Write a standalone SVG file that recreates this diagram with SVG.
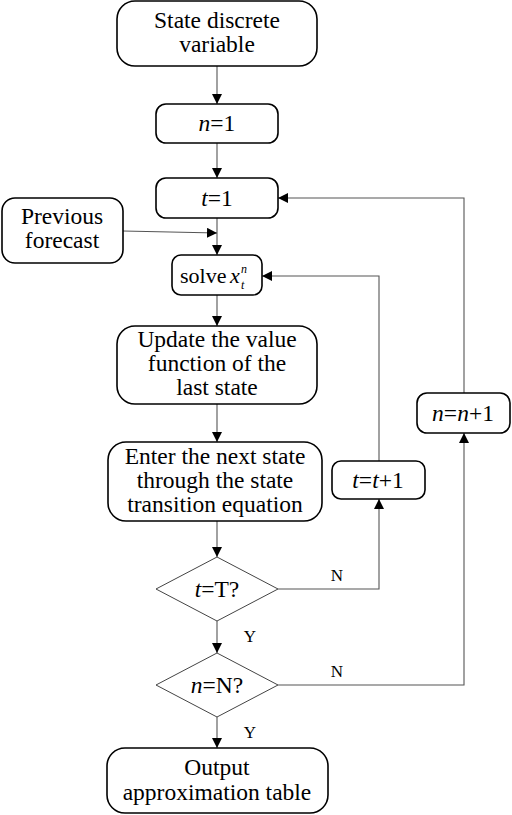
<svg xmlns="http://www.w3.org/2000/svg" width="512" height="815" viewBox="0 0 512 815">
<style>
.box{fill:#fff;stroke:#000;stroke-width:1.6}
.dia{fill:#fff;stroke:#444;stroke-width:1}
text{font-family:'Liberation Serif','DejaVu Serif',serif}
.t{font-size:23.5px;fill:#000;text-anchor:middle}
.s{font-size:17px;fill:#000;text-anchor:middle}
.i{font-style:italic}
.c{fill:none;stroke:#555;stroke-width:1.1}
</style>
<defs>
<marker id="ah" viewBox="0 0 10 10" refX="10" refY="5" markerWidth="10" markerHeight="10" markerUnits="userSpaceOnUse" orient="auto">
<path d="M0,0 L10,5 L0,10 z" fill="#000"/>
</marker>
</defs>
<g id="connectors">
<line class="c" x1="217" y1="66" x2="217" y2="104" marker-end="url(#ah)"/>
<line class="c" x1="217" y1="143" x2="217" y2="178" marker-end="url(#ah)"/>
<line class="c" x1="217" y1="218" x2="217" y2="255" marker-end="url(#ah)"/>
<line class="c" x1="123" y1="231" x2="217" y2="233" marker-end="url(#ah)"/>
<line class="c" x1="217" y1="295" x2="217" y2="326" marker-end="url(#ah)"/>
<line class="c" x1="217" y1="404" x2="217" y2="442" marker-end="url(#ah)"/>
<line class="c" x1="217" y1="521" x2="217" y2="557" marker-end="url(#ah)"/>
<line class="c" x1="217" y1="621" x2="217" y2="653" marker-end="url(#ah)"/>
<line class="c" x1="217" y1="717" x2="217" y2="748" marker-end="url(#ah)"/>
<polyline class="c" points="278,589 379,589 379,499" marker-end="url(#ah)"/>
<polyline class="c" points="379,461 379,276 262,276" marker-end="url(#ah)"/>
<polyline class="c" points="278,685 464,685 464,433" marker-end="url(#ah)"/>
<polyline class="c" points="464,393 464,198 278,198" marker-end="url(#ah)"/>
<text class="s" x="337" y="581">N</text>
<text class="s" x="337" y="677">N</text>
<text class="s" x="250" y="642">Y</text>
<text class="s" x="250" y="738">Y</text>
</g>
<g id="node-state">
<rect class="box" x="117" y="1" width="200" height="65" rx="18"/>
<text class="t" x="217" y="28">State discrete</text>
<text class="t" x="217" y="52">variable</text>
</g>
<g id="node-n1">
<rect class="box" x="156" y="104" width="122" height="39" rx="10"/>
<text class="t" x="217" y="131"><tspan class="i">n</tspan>=1</text>
</g>
<g id="node-t1">
<rect class="box" x="156" y="178" width="122" height="40" rx="10"/>
<text class="t" x="217" y="206"><tspan class="i">t</tspan>=1</text>
</g>
<g id="node-prev">
<rect class="box" x="2" y="198" width="121" height="65" rx="13"/>
<text class="t" x="62" y="224">Previous</text>
<text class="t" x="62" y="248">forecast</text>
</g>
<g id="node-solve">
<rect class="box" x="172" y="255" width="90" height="40" rx="9"/>
<text class="t" x="180" y="283" style="text-anchor:start;font-size:22px">solve</text>
<text class="t i" x="230" y="283" style="text-anchor:start;font-size:22px">x</text>
<text class="i" font-size="12" x="241" y="289">t</text>
<text class="i" font-size="12" x="241" y="273">n</text>
</g>
<g id="node-update">
<rect class="box" x="117" y="326" width="200" height="78" rx="18"/>
<text class="t" x="217" y="347">Update the value</text>
<text class="t" x="217" y="371">function of the</text>
<text class="t" x="217" y="395">last state</text>
</g>
<g id="node-enter">
<rect class="box" x="108" y="442" width="214" height="79" rx="18"/>
<text class="t" x="215" y="464">Enter the next state</text>
<text class="t" x="215" y="488">through the state</text>
<text class="t" x="215" y="512">transition equation</text>
</g>
<g id="node-tt1">
<rect class="box" x="332" y="461" width="93" height="38" rx="9"/>
<text class="t" x="378" y="488"><tspan class="i">t</tspan>=<tspan class="i">t</tspan>+1</text>
</g>
<g id="node-nn1">
<rect class="box" x="417" y="393" width="93" height="40" rx="10"/>
<text class="t" x="463" y="421"><tspan class="i">n</tspan>=<tspan class="i">n</tspan>+1</text>
</g>
<g id="node-tT">
<polygon class="dia" points="217,557 278,589 217,621 156,589"/>
<text class="t" x="217" y="597"><tspan class="i">t</tspan>=T?</text>
</g>
<g id="node-nN">
<polygon class="dia" points="217,653 278,685 217,717 156,685"/>
<text class="t" x="217" y="693"><tspan class="i">n</tspan>=N?</text>
</g>
<g id="node-output">
<rect class="box" x="107" y="748" width="221" height="65" rx="18"/>
<text class="t" x="217" y="775">Output</text>
<text class="t" x="217" y="800">approximation table</text>
</g>
</svg>
